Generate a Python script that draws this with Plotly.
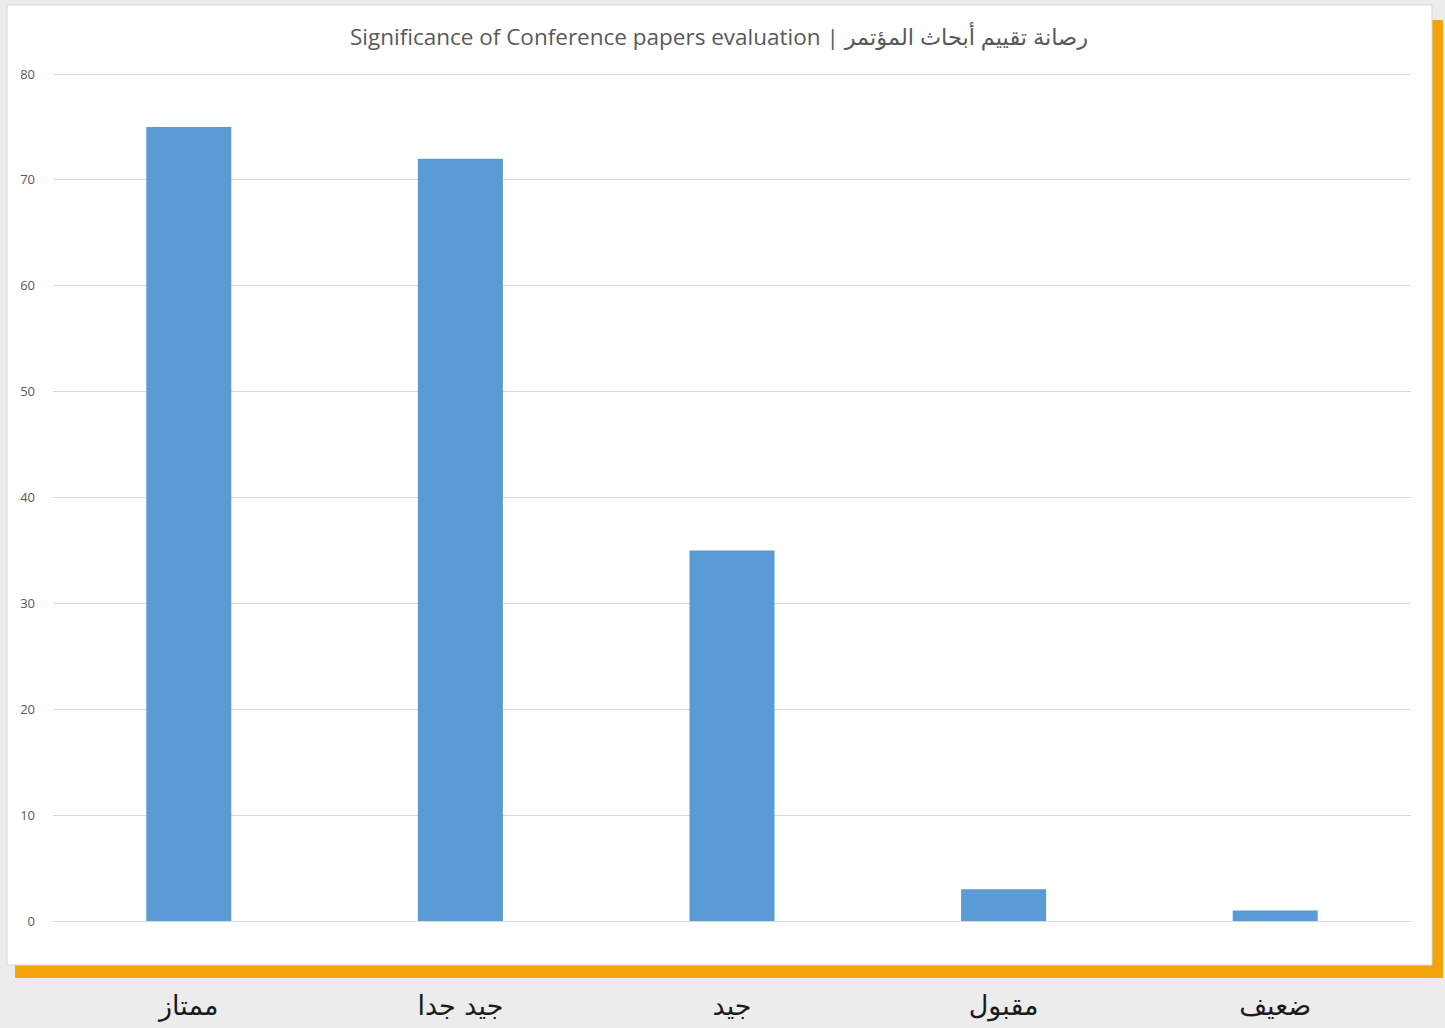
import plotly.graph_objects as go

categories = ["ممتاز", "جيد جدا", "جيد", "مقبول", "ضعيف"]
values = [75, 72, 35, 3, 1]
y_ticks = [0, 10, 20, 30, 40, 50, 60, 70, 80]
title_text = "Significance of Conference papers evaluation | رصانة تقييم أبحاث المؤتمر"

W, H = 1445, 1028
ppu = 847 / 80          # pixels per unit on the value axis
pad = 2 / ppu           # small range pad so the 0 and 80 gridlines are drawn
L, R = 53, 34
T, B = 74 - 2, 107 - 2
pw, ph = W - L - R, H - T - B

def px_x(p):
    return (p - L) / pw

def px_y(p):
    return (H - B - p) / ph

fig = go.Figure()
fig.add_trace(go.Bar(
    x=categories, y=values,
    marker=dict(color="#5B9BD5", line=dict(width=0)),
    width=0.313,
    hoverinfo="x+y",
))

shapes = [
    # orange shadow
    dict(type="rect", xref="paper", yref="paper", layer="below",
         x0=px_x(15), x1=px_x(1443), y0=px_y(978), y1=px_y(20),
         fillcolor="#F5A30A", line=dict(width=0)),
    # white card
    dict(type="rect", xref="paper", yref="paper", layer="below",
         x0=px_x(7), x1=px_x(1432), y0=px_y(965), y1=px_y(5),
         fillcolor="#FFFFFF", line=dict(color="#D6D6D6", width=1)),
]

fig.update_layout(
    width=W, height=H,
    margin=dict(l=L, r=R, t=T, b=B, autoexpand=False),
    paper_bgcolor="#ECECEC",
    plot_bgcolor="rgba(0,0,0,0)",
    shapes=shapes,
    showlegend=False,
    bargap=0.687,
    title=dict(text=title_text, x=719 / W, xanchor="center",
               y=1 - 37 / H, yanchor="middle",
               font=dict(family="Open Sans, DejaVu Sans", size=22.5, color="#595959")),
)
fig.update_xaxes(
    showgrid=False, zeroline=False, showline=False, ticks="",
    tickfont=dict(family="DejaVu Sans", size=27, color="#1A1A1A"),
    ticklabelstandoff=64,
    range=[-0.5, 4.5],
)
fig.update_yaxes(
    range=[-pad, 80 + pad], tickvals=y_ticks, ticktext=[str(v) for v in y_ticks],
    showgrid=True, gridcolor="#D9D9D9", gridwidth=1,
    zeroline=False, showline=False, ticks="",
    tickfont=dict(family="Open Sans, DejaVu Sans", size=13, color="#595959"),
    ticklabelstandoff=17,
)

fig.write_html(
    "out.html",
    config={"displayModeBar": False},
    post_script="document.body.style.margin='0';document.body.style.overflow='hidden';",
)
